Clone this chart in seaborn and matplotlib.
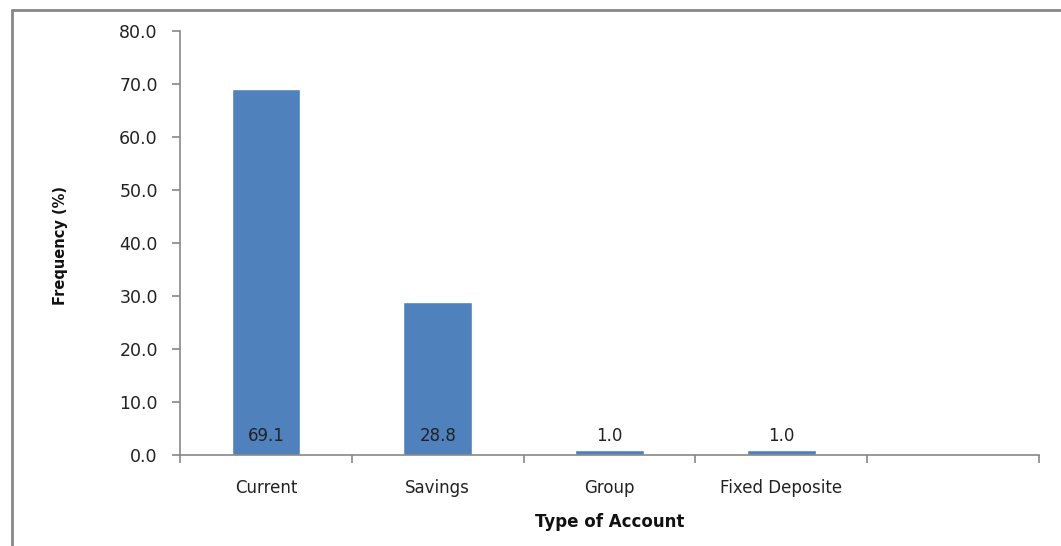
import numpy as np
import pandas as pd
import seaborn as sns
import matplotlib.pyplot as plt
from matplotlib.lines import Line2D

# data
account_types = ['Current', 'Savings', 'Group', 'Fixed Deposite']
frequency = [69.1, 28.8, 1.0, 1.0]

df = pd.DataFrame({'Type': account_types, 'Frequency': frequency})

sns.set_style('white')
plt.rcParams['font.family'] = ['DejaVu Sans']

fig = plt.figure(figsize=(10.61, 5.46), dpi=100)
ax = fig.add_axes([0.1697, 0.1667, 0.8096, 0.7766])

sns.barplot(data=df, x='Type', y='Frequency', order=account_types,
            color='#4F81BD', saturation=1, width=0.4, ax=ax)

# value labels sit near the base, like the excel "inside base" option
for i, v in enumerate(frequency):
    ax.text(i, 3.6, f'{v:.1f}', ha='center', va='center', fontsize=12, color='#222222')

# fifth empty slot on the category axis
ax.set_xlim(-0.5, 4.5)
ax.set_ylim(0, 80)
ax.set_yticks(np.arange(0, 81, 10))
ax.set_yticklabels([f'{t:.1f}' for t in np.arange(0, 81, 10)], fontsize=12.5, color='#222222')
ax.set_xticks(range(len(account_types)))
ax.set_xticklabels(account_types, fontsize=12, color='#222222')
ax.set_xticks(np.arange(-0.5, 4.6, 1), minor=True)
ax.tick_params(axis='x', which='major', length=0, pad=17, bottom=True)
ax.tick_params(axis='x', which='minor', length=6, color='#888888', direction='out', width=1.2, bottom=True)
ax.tick_params(axis='y', length=6, color='#888888', direction='out', width=1.2, pad=10, left=True)

for s in ['top', 'right']:
    ax.spines[s].set_visible(False)
for s in ['left', 'bottom']:
    ax.spines[s].set_color('#888888')
    ax.spines[s].set_linewidth(1.2)

ax.set_xlabel('Type of Account', fontsize=12, fontweight='bold', color='#111111')
ax.set_ylabel('Frequency (%)', fontsize=10.5, fontweight='bold', color='#111111')
ax.xaxis.set_label_coords(0.5, -0.137)
ax.yaxis.set_label_coords(-0.130, 0.493)

# outer chart frame (only the left and top edges show in the crop)
fig.add_artist(Line2D([0.0113, 0.0113], [0, 0.9817], color='#888888', lw=2))
fig.add_artist(Line2D([0.0113, 1.0], [0.9817, 0.9817], color='#888888', lw=2))

fig.savefig('out.png', dpi=100)
